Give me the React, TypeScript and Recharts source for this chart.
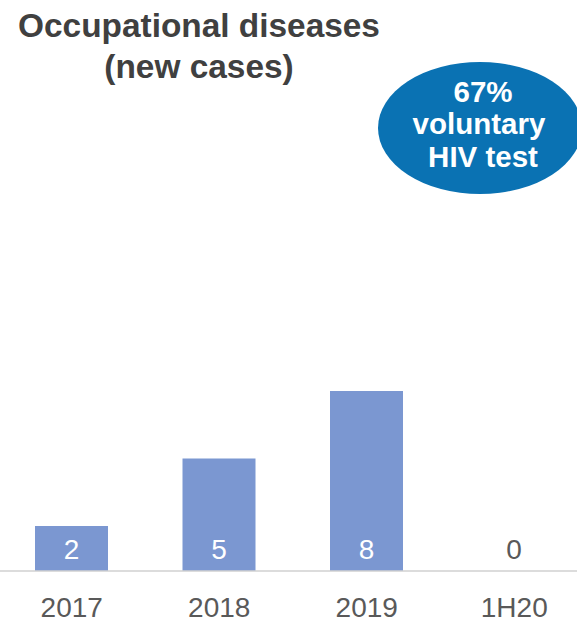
import { BarChart, Bar, XAxis, YAxis, Cell } from 'recharts'

const periods = ['2017', '2018', '2019', '1H20']
const newCases = [2, 5, 8, 0]

const data = periods.map((p, i) => ({ period: p, cases: newCases[i] }))

const BAR_COLOR = '#7b97d1'
const TEXT_GRAY = '#595959'
const FONT = 'Arial, "Liberation Sans", sans-serif'

const renderCaseLabel = (props: any) => {
    const { x, y, width, height, value } = props
    const bottom = Number(y) + Number(height)
    return (
        <text
            key={`lbl-${x}`}
            x={Number(x) + Number(width) / 2}
            y={bottom - 12}
            textAnchor="middle"
            fontSize={28}
            fontFamily={FONT}
            fill={Number(value) > 0 ? '#ffffff' : TEXT_GRAY}
        >
            {value}
        </text>
    )
}

const App = () => {
    return (
        <div style={{ position: 'fixed', left: 0, top: 0, width: 577, height: 622, overflow: 'hidden', background: '#fff' }}>
            <div style={{ position: 'absolute', left: -2, top: 0 }}>
                <BarChart width={590} height={622} data={data} margin={{ top: 391, right: 0, bottom: 21, left: 0 }}>
                    <XAxis
                        dataKey="period"
                        axisLine={{ stroke: '#d0d0d0', strokeWidth: 1.5 }}
                        tickLine={false}
                        tickSize={0}
                        tickMargin={26}
                        tick={{ fill: TEXT_GRAY, fontSize: 28, fontFamily: FONT }}
                        interval={0}
                    />
                    <YAxis hide domain={[0, 8]} />
                    <Bar
                        dataKey="cases"
                        fill={BAR_COLOR}
                        barSize={73}
                        minPointSize={1}
                        isAnimationActive={false}
                        label={renderCaseLabel}
                    >
                        {newCases.map((v, i) => (
                            <Cell key={`cell-${i}`} fill={v > 0 ? BAR_COLOR : 'none'} />
                        ))}
                    </Bar>
                </BarChart>
            </div>
            <svg width={577} height={622} style={{ position: 'absolute', left: 0, top: 0, pointerEvents: 'none' }}>
                <text x={199} y={37} textAnchor="middle" fontSize={33.4} fontWeight="bold" fontFamily={FONT} fill="#404040">
                    Occupational diseases
                </text>
                <text x={199} y={78} textAnchor="middle" fontSize={33.4} fontWeight="bold" fontFamily={FONT} fill="#404040">
                    (new cases)
                </text>
                <ellipse cx={480} cy={128} rx={102} ry={66} fill="#0a72b3" />
                <g fontSize={29.5} fontWeight="bold" fontFamily={FONT} fill="#ffffff" textAnchor="middle">
                    <text x={483} y={102}>67%</text>
                    <text x={479} y={134}>voluntary</text>
                    <text x={483} y={167}>HIV test</text>
                </g>
            </svg>
        </div>
    )
}

export default App
